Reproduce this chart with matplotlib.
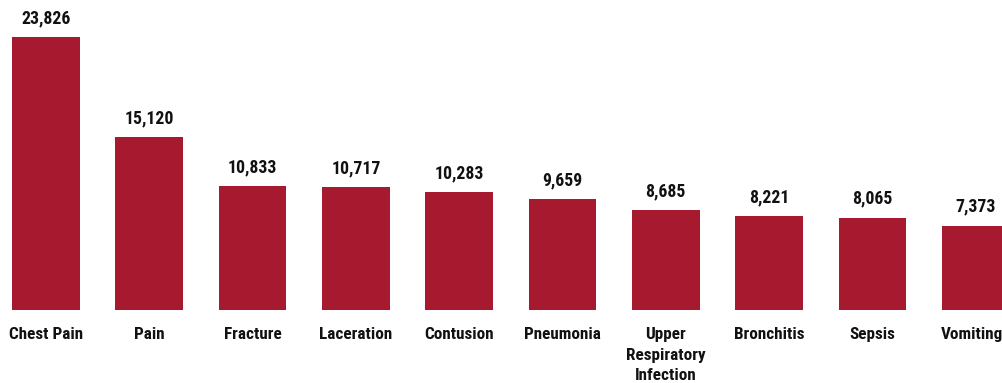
import matplotlib
matplotlib.use("Agg")
import matplotlib.pyplot as plt
import matplotlib.transforms as mtransforms
from matplotlib import font_manager

categories = ["Chest Pain", "Pain", "Fracture", "Laceration", "Contusion",
              "Pneumonia", "Upper\nRespiratory\nInfection", "Bronchitis", "Sepsis", "Vomiting"]
values = [23826, 15120, 10833, 10717, 10283, 9659, 8685, 8221, 8065, 7373]

names = {f.name for f in font_manager.fontManager.ttflist}
fam = "Liberation Sans"
for cand in ["Roboto Condensed", "Liberation Sans Narrow", "Arial Narrow", "Roboto"]:
    if cand in names:
        fam = cand
        break

fig = plt.figure(figsize=(10.03, 3.83), dpi=100)
ax = fig.add_axes([0, 73/383, 1, 310/383])
x = list(range(len(values)))
ax.bar(x, values, width=0.655, color="#A6192E")
ax.set_xlim(-0.445, 9.264)
ax.set_ylim(0, 27055)
for xi, v in zip(x, values):
    ax.annotate(f"{v:,}", (xi, v), xytext=(0, 7), textcoords="offset points",
                ha="center", va="bottom", fontsize=12.8, fontweight="bold",
                family=fam, color="#111111")
ax.set_xticks(x)
labels = ax.set_xticklabels(categories, fontsize=12.3, fontweight="bold", family=fam,
                            color="#111111", linespacing=1.45)
ax.tick_params(axis="x", length=0, pad=12.5)
last = ax.get_xticklabels()[-1]
last.set_transform(last.get_transform() + mtransforms.ScaledTranslation(-4/100, 0, fig.dpi_scale_trans))
ax.set_yticks([])
for s in ax.spines.values():
    s.set_visible(False)
fig.savefig("out.png", dpi=100)
